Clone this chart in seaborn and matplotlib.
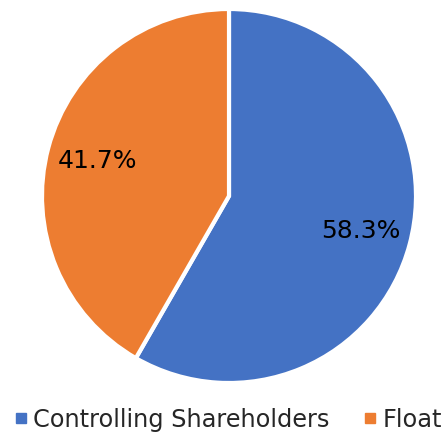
import matplotlib
matplotlib.use("Agg")
import matplotlib.pyplot as plt
from matplotlib.lines import Line2D
import seaborn as sns

labels = ["Controlling Shareholders", "Float"]
shares = [58.3, 41.7]
colors = ["#4472C4", "#ED7D31"]

sns.set_style("white")
plt.rcParams['font.family'] = ['DejaVu Sans']

fig = plt.figure(figsize=(4.46, 4.34), dpi=100)
# pie centre ~ (229, 196) px, radius ~187 px
ax = fig.add_axes([42 / 446, (434 - 383) / 434, 374 / 446, 374 / 434])

wedges, texts, autotexts = ax.pie(
    shares, colors=colors, startangle=90, counterclock=False,
    autopct='%1.1f%%', pctdistance=0.73,
    wedgeprops=dict(edgecolor='white', linewidth=3),
    textprops=dict(fontsize=18, color='black'))
ax.set_aspect('equal')
ax.set_xlim(-1, 1)
ax.set_ylim(-1, 1)
ax.axis('off')

handles = [Line2D([0], [0], marker='s', linestyle='', markersize=6.5,
                  markerfacecolor=c, markeredgecolor=c) for c in colors]
fig.legend(handles, labels, loc='lower center', bbox_to_anchor=(0.508, -0.045),
           ncol=2, frameon=False, fontsize=17.3, handletextpad=0.1,
           columnspacing=1.3, handlelength=0.8)

fig.savefig("out.png", dpi=100)
